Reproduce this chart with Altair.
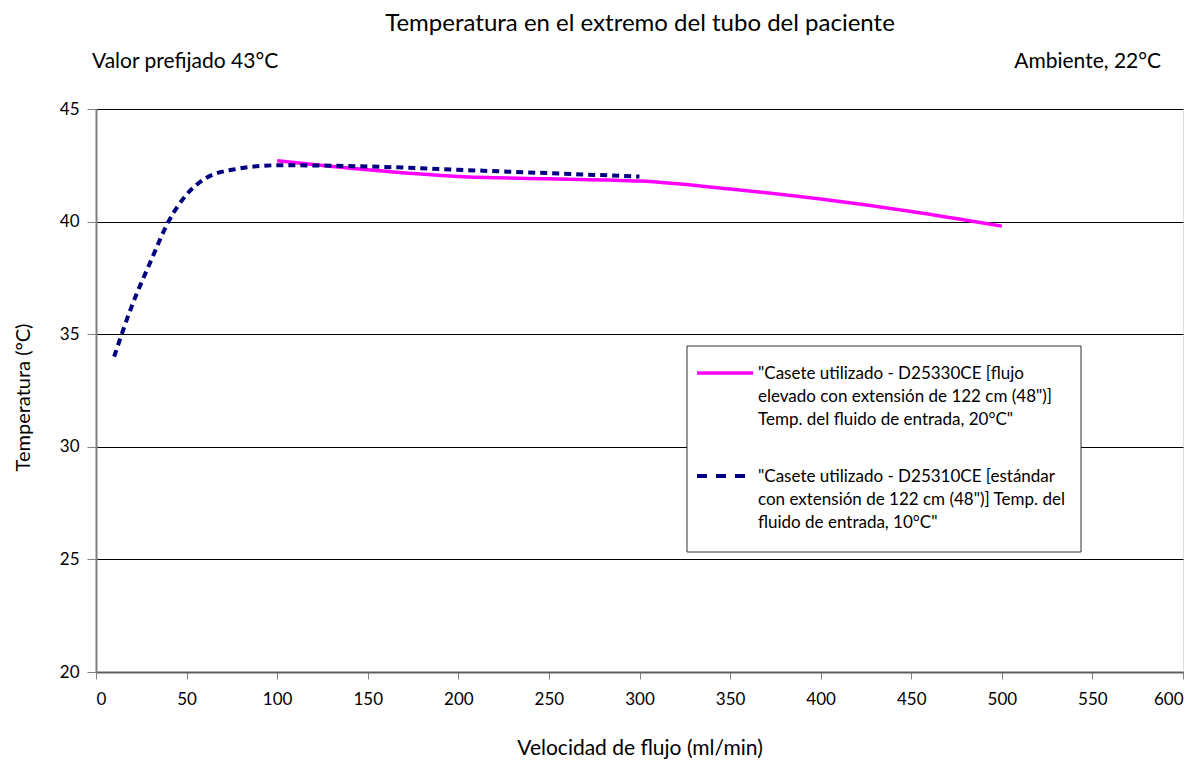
import altair as alt
import pandas as pd

# Data
flow_high = [100, 150, 200, 250, 300, 350, 400, 450, 500]
temp_high = [42.7, 42.3, 42.0, 41.9, 41.8, 41.45, 41.0, 40.45, 39.8]

flow_std = [10, 20, 30, 40, 50, 60, 75, 100, 150, 200, 250, 300]
temp_std = [34.0, 36.3, 38.2, 40.0, 41.2, 41.9, 42.3, 42.5, 42.45, 42.3, 42.15, 42.0]

x_ticks = list(range(0, 601, 50))
y_ticks = [20, 25, 30, 35, 40, 45]

title_text = "Temperatura en el extremo del tubo del paciente"
left_note = "Valor prefijado 43°C"
right_note = "Ambiente, 22°C"
legend_high = '"Casete utilizado - D25330CE [flujo\nelevado con extensión de 122 cm (48")]\nTemp. del fluido de entrada, 20°C"'
legend_std = '"Casete utilizado - D25310CE [estándar\ncon extensión de 122 cm (48")] Temp. del\nfluido de entrada, 10°C"'

FONT = "Lato"
W, H = 1087, 563

df_high = pd.DataFrame({"flow": flow_high, "temp": temp_high})
df_std = pd.DataFrame({"flow": flow_std, "temp": temp_std})
one = pd.DataFrame({"a": [0]})

xs = alt.Scale(domain=[0, 600], nice=False)
ys = alt.Scale(domain=[20, 45], nice=False)

x_axis = alt.Axis(values=x_ticks, title="Velocidad de flujo (ml/min)", grid=False,
                  tickSize=7, tickColor="#808080", domainColor="#606060", domainWidth=2,
                  labelFontSize=17, labelPadding=12, labelFont=FONT, labelColor="black",
                  titleFont=FONT, titleFontSize=21, titleFontWeight="normal",
                  titleY=82, titleBaseline="alphabetic", titleColor="black")
y_axis = alt.Axis(values=y_ticks, title="Temperatura (°C)", grid=True, gridColor="black",
                  gridWidth=1, tickSize=9, tickColor="#808080", domainColor="#808080",
                  domainWidth=2, labelFontSize=17, labelPadding=8, labelFont=FONT,
                  labelColor="black", titleFont=FONT, titleFontSize=20,
                  titleFontWeight="normal", titleX=-73, titleY=288, titleAngle=270,
                  titleAlign="center", titleBaseline="middle", titleColor="black")

line_high = alt.Chart(df_high).mark_line(color="#FF00FF", strokeWidth=3.5,
                                         interpolate="monotone").encode(
    x=alt.X("flow:Q", scale=xs, axis=x_axis),
    y=alt.Y("temp:Q", scale=ys, axis=y_axis),
)
line_std = alt.Chart(df_std).mark_line(color="#000080", strokeWidth=4,
                                       strokeDash=[7, 5], interpolate="monotone").encode(
    x=alt.X("flow:Q", scale=xs),
    y=alt.Y("temp:Q", scale=ys),
)

# Legend box (drawn manually)
leg_box = alt.Chart(one).mark_rect(fill="white", stroke="#303030", strokeWidth=1).encode(
    x=alt.value(591), x2=alt.value(985), y=alt.value(237), y2=alt.value(443))
leg_l1 = alt.Chart(one).mark_rule(color="#FF00FF", strokeWidth=3.5).encode(
    x=alt.value(601), x2=alt.value(657), y=alt.value(264))
leg_l2 = alt.Chart(one).mark_rule(color="#000080", strokeWidth=4, strokeDash=[10, 9]).encode(
    x=alt.value(601), x2=alt.value(657), y=alt.value(367))
leg_t1 = alt.Chart(one).mark_text(align="left", baseline="middle", font=FONT, fontSize=17,
                                  lineBreak="\n", lineHeight=23, color="black").encode(
    x=alt.value(662), y=alt.value(265), text=alt.value(legend_high))
leg_t2 = alt.Chart(one).mark_text(align="left", baseline="middle", font=FONT, fontSize=17,
                                  lineBreak="\n", lineHeight=23, color="black").encode(
    x=alt.value(662), y=alt.value(368), text=alt.value(legend_std))

# Title and notes
t_main = alt.Chart(one).mark_text(align="center", baseline="alphabetic", font=FONT,
                                  fontSize=24, color="black").encode(
    x=alt.value(544), y=alt.value(-78), text=alt.value(title_text))
t_left = alt.Chart(one).mark_text(align="left", baseline="alphabetic", font=FONT,
                                  fontSize=21, color="black").encode(
    x=alt.value(-4), y=alt.value(-41), text=alt.value(left_note))
t_right = alt.Chart(one).mark_text(align="right", baseline="alphabetic", font=FONT,
                                   fontSize=21, color="black").encode(
    x=alt.value(1065), y=alt.value(-41), text=alt.value(right_note))

chart = alt.layer(line_high, line_std, leg_box, leg_l1, leg_l2, leg_t1, leg_t2,
                  t_main, t_left, t_right).properties(
    width=W, height=H,
    autosize=alt.AutoSizeParams(type="none"),
    padding={"left": 88, "top": 101, "right": 13, "bottom": 88},
).configure_view(stroke="#808080", strokeWidth=1.5).configure(background="white")

chart.save("out.html", embed_options={"renderer": "svg", "actions": False})
